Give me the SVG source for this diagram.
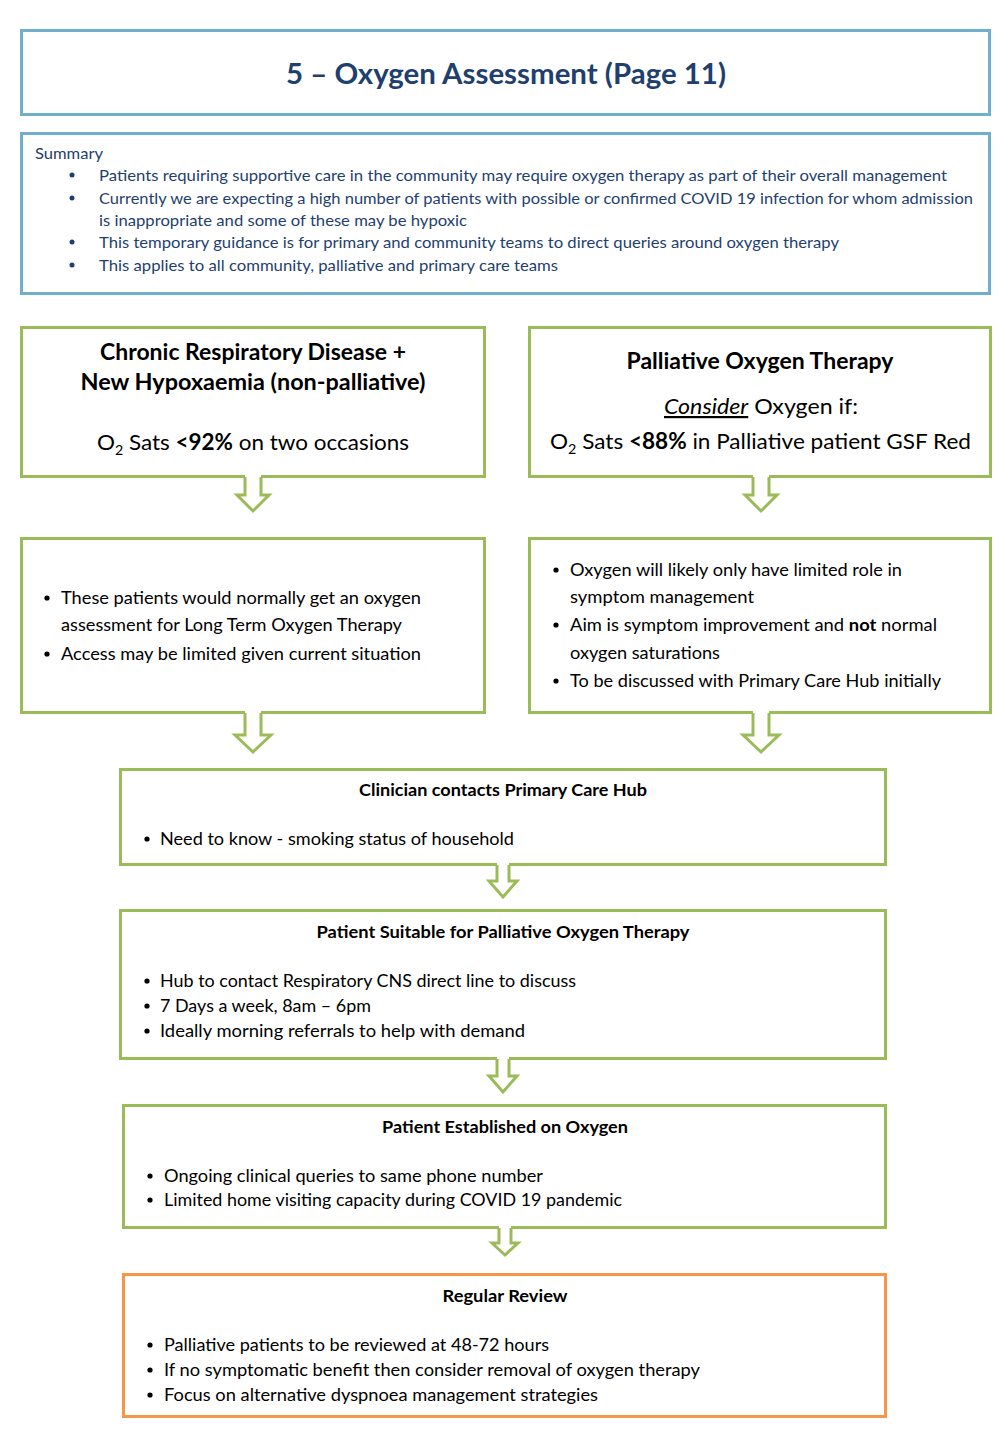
<svg xmlns="http://www.w3.org/2000/svg" width="1000" height="1430" viewBox="0 0 1000 1430">
<style>
text{font-family:Lato,"Open Sans","Liberation Sans",sans-serif;fill:#000}
.bb{fill:none;stroke:#6FAFCB;stroke-width:3}
.gb{fill:#fff;stroke:#9BBB59;stroke-width:3}
.ob{fill:#fff;stroke:#F79646;stroke-width:3}
.ttl{font-size:28px;font-weight:bold;fill:#1F3F6E}
.sm{font-size:15px;fill:#1F3F6E}
.big{font-size:22px}
.bld{font-weight:bold}
.bt{font-size:17px}
.ht{font-size:17px;font-weight:bold}
.dot{fill:#000}
.sdot{fill:#1F3F6E}
.arw{fill:none;stroke:#9BBB59;stroke-width:3;stroke-linejoin:miter}
.cov{fill:#fff;stroke:none}
</style>
<g id="title">
<rect class="bb" x="21.5" y="30.5" width="968" height="84"/>
<text class="ttl" x="506" y="84" text-anchor="middle" textLength="440" lengthAdjust="spacingAndGlyphs">5 – Oxygen Assessment (Page 11)</text>
</g>
<g id="summary">
<rect class="bb" x="21.5" y="133.5" width="968" height="160"/>
<text class="sm" x="35" y="159" textLength="68" lengthAdjust="spacingAndGlyphs">Summary</text>
<circle class="sdot" cx="72" cy="175" r="2.5"/>
<circle class="sdot" cx="72" cy="198" r="2.5"/>
<circle class="sdot" cx="72" cy="242" r="2.5"/>
<circle class="sdot" cx="72" cy="265" r="2.5"/>
<text class="sm" x="99" y="181" textLength="848" lengthAdjust="spacingAndGlyphs">Patients requiring supportive care in the community may require oxygen therapy as part of their overall management</text>
<text class="sm" x="99" y="204" textLength="874" lengthAdjust="spacingAndGlyphs">Currently we are expecting a high number of patients with possible or confirmed COVID 19 infection for whom admission</text>
<text class="sm" x="99" y="226" textLength="368" lengthAdjust="spacingAndGlyphs">is inappropriate and some of these may be hypoxic</text>
<text class="sm" x="99" y="248" textLength="740" lengthAdjust="spacingAndGlyphs">This temporary guidance is for primary and community teams to direct queries around oxygen therapy</text>
<text class="sm" x="99" y="271" textLength="459" lengthAdjust="spacingAndGlyphs">This applies to all community, palliative and primary care teams</text>
</g>
<g id="boxA">
<rect class="gb" x="21.5" y="327.5" width="463" height="149"/>
<text class="big bld" x="253" y="360" text-anchor="middle" textLength="306" lengthAdjust="spacingAndGlyphs">Chronic Respiratory Disease +</text>
<text class="big bld" x="253" y="390" text-anchor="middle" textLength="345" lengthAdjust="spacingAndGlyphs">New Hypoxaemia (non-palliative)</text>
<text class="big" x="97" y="450" textLength="312" lengthAdjust="spacingAndGlyphs">O<tspan font-size="14" dy="5">2</tspan><tspan dy="-5"> Sats </tspan><tspan class="bld">&lt;92%</tspan> on two occasions</text>
</g>
<g id="boxB">
<rect class="gb" x="529.5" y="327.5" width="461" height="149"/>
<text class="big bld" x="760" y="369" text-anchor="middle" textLength="267" lengthAdjust="spacingAndGlyphs">Palliative Oxygen Therapy</text>
<text class="big" x="664" y="414" textLength="194" lengthAdjust="spacingAndGlyphs"><tspan font-style="italic" text-decoration="underline">Consider</tspan> Oxygen if:</text>
<text class="big" x="550" y="449" textLength="421" lengthAdjust="spacingAndGlyphs">O<tspan font-size="14" dy="5">2</tspan><tspan dy="-5"> Sats </tspan><tspan class="bld">&lt;88%</tspan> in Palliative patient GSF Red</text>
</g>
<g id="boxC">
<rect class="gb" x="21.5" y="538.5" width="463" height="174"/>
<circle class="dot" cx="47" cy="598" r="2.6"/>
<circle class="dot" cx="47" cy="654" r="2.6"/>
<text class="bt" x="61" y="604" textLength="360" lengthAdjust="spacingAndGlyphs">These patients would normally get an oxygen</text>
<text class="bt" x="61" y="631" textLength="341" lengthAdjust="spacingAndGlyphs">assessment for Long Term Oxygen Therapy</text>
<text class="bt" x="61" y="660" textLength="360" lengthAdjust="spacingAndGlyphs">Access may be limited given current situation</text>
</g>
<g id="boxD">
<rect class="gb" x="529.5" y="538.5" width="461" height="174"/>
<circle class="dot" cx="556" cy="570" r="2.6"/>
<circle class="dot" cx="556" cy="625" r="2.6"/>
<circle class="dot" cx="556" cy="681" r="2.6"/>
<text class="bt" x="570" y="576" textLength="332" lengthAdjust="spacingAndGlyphs">Oxygen will likely only have limited role in</text>
<text class="bt" x="570" y="603" textLength="184" lengthAdjust="spacingAndGlyphs">symptom management</text>
<text class="bt" x="570" y="631" textLength="367" lengthAdjust="spacingAndGlyphs">Aim is symptom improvement and <tspan class="bld">not</tspan> normal</text>
<text class="bt" x="570" y="659" textLength="150" lengthAdjust="spacingAndGlyphs">oxygen saturations</text>
<text class="bt" x="570" y="687" textLength="371" lengthAdjust="spacingAndGlyphs">To be discussed with Primary Care Hub initially</text>
</g>
<g id="boxE">
<rect class="gb" x="120.5" y="769.5" width="765" height="95"/>
<text class="ht" x="503" y="796" text-anchor="middle" textLength="288" lengthAdjust="spacingAndGlyphs">Clinician contacts Primary Care Hub</text>
<circle class="dot" cx="147" cy="839" r="2.6"/>
<text class="bt" x="160" y="845" textLength="354" lengthAdjust="spacingAndGlyphs">Need to know - smoking status of household</text>
</g>
<g id="boxF">
<rect class="gb" x="120.5" y="910.5" width="765" height="148"/>
<text class="ht" x="503" y="938" text-anchor="middle" textLength="373" lengthAdjust="spacingAndGlyphs">Patient Suitable for Palliative Oxygen Therapy</text>
<circle class="dot" cx="147" cy="981" r="2.6"/>
<circle class="dot" cx="147" cy="1006" r="2.6"/>
<circle class="dot" cx="147" cy="1031" r="2.6"/>
<text class="bt" x="160" y="987" textLength="416" lengthAdjust="spacingAndGlyphs">Hub to contact Respiratory CNS direct line to discuss</text>
<text class="bt" x="160" y="1012" textLength="211" lengthAdjust="spacingAndGlyphs">7 Days a week, 8am – 6pm</text>
<text class="bt" x="160" y="1037" textLength="365" lengthAdjust="spacingAndGlyphs">Ideally morning referrals to help with demand</text>
</g>
<g id="boxG">
<rect class="gb" x="123.5" y="1105.5" width="762" height="122"/>
<text class="ht" x="505" y="1133" text-anchor="middle" textLength="246" lengthAdjust="spacingAndGlyphs">Patient Established on Oxygen</text>
<circle class="dot" cx="150" cy="1176" r="2.6"/>
<circle class="dot" cx="150" cy="1200" r="2.6"/>
<text class="bt" x="164" y="1182" textLength="379" lengthAdjust="spacingAndGlyphs">Ongoing clinical queries to same phone number</text>
<text class="bt" x="164" y="1206" textLength="458" lengthAdjust="spacingAndGlyphs">Limited home visiting capacity during COVID 19 pandemic</text>
</g>
<g id="boxH">
<rect class="ob" x="123.5" y="1274.5" width="762" height="142"/>
<text class="ht" x="505" y="1302" text-anchor="middle" textLength="125" lengthAdjust="spacingAndGlyphs">Regular Review</text>
<circle class="dot" cx="150" cy="1345" r="2.6"/>
<circle class="dot" cx="150" cy="1370" r="2.6"/>
<circle class="dot" cx="150" cy="1395" r="2.6"/>
<text class="bt" x="164" y="1351" textLength="385" lengthAdjust="spacingAndGlyphs">Palliative patients to be reviewed at 48-72 hours</text>
<text class="bt" x="164" y="1376" textLength="536" lengthAdjust="spacingAndGlyphs">If no symptomatic benefit then consider removal of oxygen therapy</text>
<text class="bt" x="164" y="1401" textLength="434" lengthAdjust="spacingAndGlyphs">Focus on alternative dyspnoea management strategies</text>
</g>
<g id="connectors">
<polygon class="cov" points="245,474 245,495 237,495 253,511 269,495 261,495 261,474"/>
<polyline class="arw" points="245,477 245,495 237,495 253,511 269,495 261,495 261,477"/>
<polygon class="cov" points="753,474 753,495 745,495 761,511 777,495 769,495 769,474"/>
<polyline class="arw" points="753,477 753,495 745,495 761,511 777,495 769,495 769,477"/>
<polygon class="cov" points="245,710 245,735 235,735 253,752 271,735 261,735 261,710"/>
<polyline class="arw" points="245,713 245,735 235,735 253,752 271,735 261,735 261,713"/>
<polygon class="cov" points="753,710 753,735 743,735 761,752 779,735 769,735 769,710"/>
<polyline class="arw" points="753,713 753,735 743,735 761,752 779,735 769,735 769,713"/>
<polygon class="cov" points="497,862 497,881 489,881 503,897 517,881 509,881 509,862"/>
<polyline class="arw" points="497,865 497,881 489,881 503,897 517,881 509,881 509,865"/>
<polygon class="cov" points="497,1056 497,1076 489,1076 503,1092 517,1076 509,1076 509,1056"/>
<polyline class="arw" points="497,1059 497,1076 489,1076 503,1092 517,1076 509,1076 509,1059"/>
<polygon class="cov" points="499,1225 499,1243 492,1243 505,1255 518,1243 511,1243 511,1225"/>
<polyline class="arw" points="499,1228 499,1243 492,1243 505,1255 518,1243 511,1243 511,1228"/>
</g>
</svg>
